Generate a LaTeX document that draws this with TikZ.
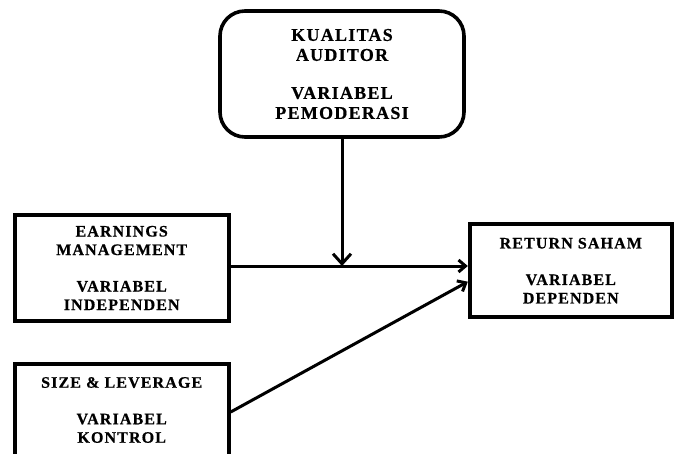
\documentclass[tikz,border=0pt]{standalone}
\usepackage{fontspec}
\setmainfont{Liberation Serif}
\newfontfamily\kotakfont[LetterSpace=7, BoldFeatures={FakeBold=0.6}]{Liberation Serif}
\usetikzlibrary{arrows.meta}

\tikzset{
  kotak/.style = {draw, line width=4pt, align=center, inner sep=0pt,
    font=\kotakfont\bfseries\fontsize{16}{18.5}\selectfont},
  panah/.style = {line width=3pt, -{Straight Barb[length=7pt, width=12pt]}}
}

\begin{document}
\begin{tikzpicture}[x=1pt, y=-1pt]
    \useasboundingbox (0,0) rectangle (674,454);
    % Variabel pemoderasi
    \node[kotak, rounded corners=25pt, line width=3.6pt, minimum width=244pt, minimum height=126pt,
      font=\kotakfont\bfseries\fontsize{18}{20}\selectfont] (auditor) at (342,74)
      {KUALITAS\\AUDITOR\\[18pt]VARIABEL\\PEMODERASI};
    % Variabel independen
    \node[kotak, minimum width=214pt, minimum height=106pt] (earnings) at (121.7,268)
      {EARNINGS\\MANAGEMENT\\[18pt]VARIABEL\\INDEPENDEN};
    % Variabel kontrol (terpotong di bawah)
    \node[kotak, minimum width=214pt, minimum height=92pt] (size) at (121.7,410)
      {SIZE \& LEVERAGE\\[18pt]VARIABEL\\KONTROL};
    % Variabel dependen
    \node[kotak, minimum width=202pt, minimum height=93pt] (return) at (570.8,270.7)
      {RETURN SAHAM\\[18pt]VARIABEL\\DEPENDEN};
    % Panah
    \coordinate (garis) at ([yshift=2pt]earnings.east);
    \coordinate (temu) at (auditor.south |- garis);
    \draw[panah] (garis) -- (garis -| return.west);
    \draw[panah, -{Straight Barb[length=10pt, width=18pt]}] (auditor.south) -- (temu);
    \draw[panah] ([yshift=-2pt]size.east) -- ([yshift=-11pt]return.west);
\end{tikzpicture}
\end{document}
